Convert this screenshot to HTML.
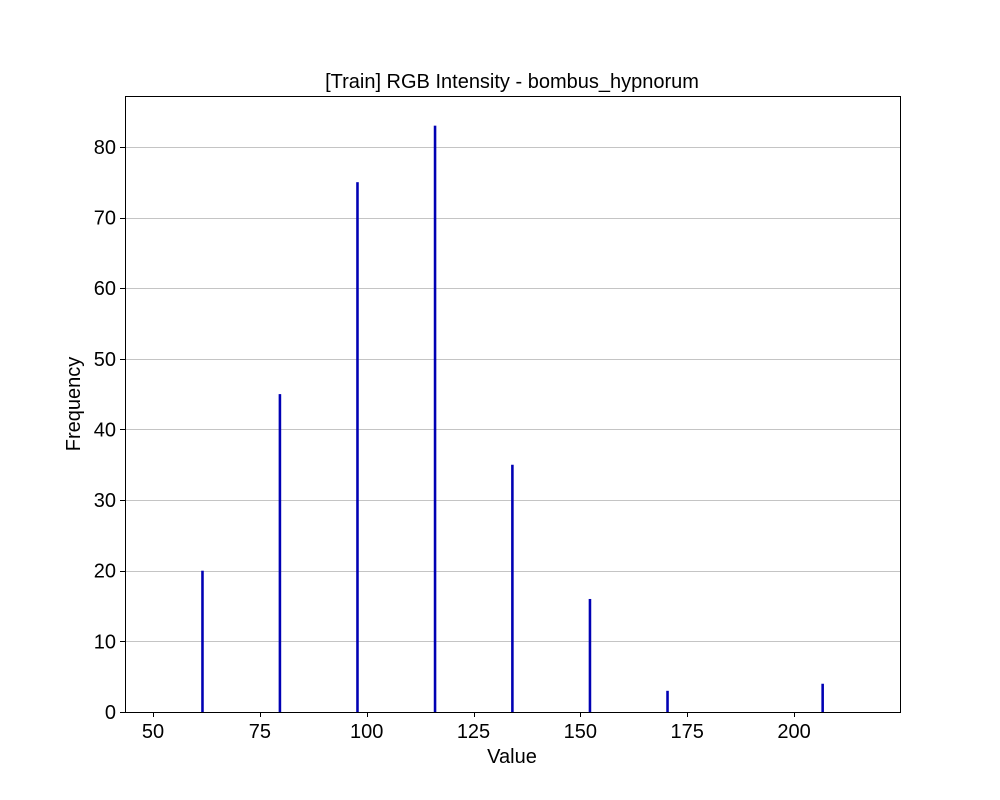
<!DOCTYPE html>
<html><head><meta charset="utf-8"><style>
body{margin:0;background:#fff;}
svg{display:block;font-family:"Liberation Sans","DejaVu Sans",sans-serif;}
</style></head><body>
<svg id="chart" width="1000" height="800" xmlns="http://www.w3.org/2000/svg">
<rect width="1000" height="800" fill="#fff"/>
<g id="grid"></g><g id="bars"></g><g id="axes"></g>
<text x="512" y="88" font-size="20" text-anchor="middle">[Train] RGB Intensity - bombus_hypnorum</text>
<text x="512" y="763" font-size="20" text-anchor="middle">Value</text>
<text transform="translate(80,404) rotate(-90)" font-size="20" text-anchor="middle">Frequency</text>
</svg>
<script>
const binCenters=[61.58,79.7,97.85,116.0,134.1,152.25,170.4,206.7];
const frequencies=[20,45,75,83,35,16,3,4];
const xTicks=[50,75,100,125,150,175,200];
const yTicks=[0,10,20,30,40,50,60,70,80];
const L=125,R=900,T=96,B=712;
const xMin=43.45,xMax=224.8,yMax=87.2;
const binWidth=0.6;
const xs=v=>L+(v-xMin)/(xMax-xMin)*(R-L);
const ys=v=>B-v/yMax*(B-T);
const NS="http://www.w3.org/2000/svg";
function mk(tag,attrs,parent){const e=document.createElementNS(NS,tag);for(const k in attrs)e.setAttribute(k,attrs[k]);document.getElementById(parent).appendChild(e);return e;}
yTicks.forEach(t=>{
  const y=Math.round(ys(t))+0.5;
  if(t>0){const g=mk('line',{x1:L,x2:R,y1:y,y2:y,stroke:'#c4c4c4','stroke-width':1},'grid');
  
  }
  const tk=mk('line',{x1:L-5,x2:L,y1:y,y2:y,stroke:'#000','stroke-width':1},'axes');
  
  
  const tx=mk('text',{x:L-9,y:ys(t)+7,'font-size':20,'text-anchor':'end'},'axes');tx.textContent=t;
  
  
});
xTicks.forEach(t=>{
  const x=Math.round(xs(t))+0.5;
  const tk=mk('line',{x1:x,x2:x,y1:B,y2:B+5,stroke:'#000','stroke-width':1},'axes');
  
  
  const tx=mk('text',{x:xs(t),y:B+26,'font-size':20,'text-anchor':'middle'},'axes');tx.textContent=t;
  
  
});
binCenters.forEach((c,i)=>{
  const x0=xs(c-binWidth/2),x1=xs(c+binWidth/2);
  const b=mk('rect',{x:x0,y:ys(frequencies[i]),width:x1-x0,height:B-ys(frequencies[i]),fill:'#0000b4'},'bars');
  
  
});
const f=mk('rect',{x:L+0.5,y:T+0.5,width:R-L,height:B-T,fill:'none',stroke:'#000','stroke-width':1},'axes');


</script>
</body></html>
